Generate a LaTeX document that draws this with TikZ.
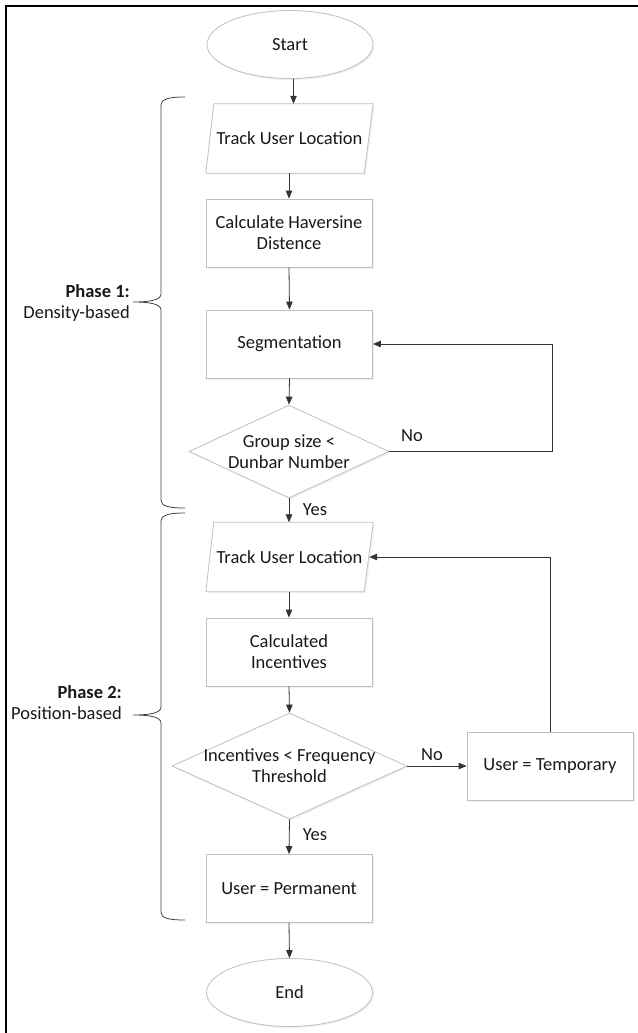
\documentclass[tikz,border=0pt]{standalone}
\usepackage{fontspec}
\setmainfont{Carlito}
\usetikzlibrary{shapes.geometric,arrows.meta,shadows}
\begin{document}
\begin{tikzpicture}[x=1pt,y=-1pt,
  font=\fontsize{18.5}{21}\selectfont,
  every node/.style={text=black!90},
  shp/.style={draw=black!25, line width=0.8pt, fill=white,
    drop shadow={opacity=0.12,shadow xshift=1.5pt,shadow yshift=-1.5pt}},
  term/.style={shp, ellipse, minimum width=166pt, minimum height=68pt, inner sep=0pt},
  box/.style={shp, rectangle, minimum width=166pt, minimum height=68pt, inner sep=0pt, align=center},
  parbox/.style={rectangle, minimum width=167pt, minimum height=69pt, inner sep=0pt},
  dia/.style={shp, diamond, inner sep=0pt},
  arr/.style={-{Triangle[length=8pt,width=6.5pt]}, line width=0.8pt, draw=black!80},
  brace/.style={line width=0.8pt, draw=black!75},
  lbl/.style={inner sep=0pt}
]
\useasboundingbox (0,0) rectangle (637,1033);
\draw[line width=2pt] (5.5,1034) -- (5.5,6.5) -- (638,6.5);

\node[term] (start) at (290,44.5) {Start};
% parallelogram 1
\node[parbox] (p1) at (289.5,138.5) {};
\draw[shp] (p1.south west) -- ([xshift=-9pt]p1.south east) -- (p1.north east) -- ([xshift=8pt]p1.north west) -- cycle;
\node (p1t) at (p1) {Track User Location};
\node[box] (calc) at (289,233) {Calculate Haversine\\Distence};
\node[box] (seg) at (289.5,344) {Segmentation};
\node[dia, minimum width=200pt, minimum height=93pt] (d1) at (289,451.5) {};
\node[align=center] (d1t) at (d1) {Group size <\\Dunbar Number};
% parallelogram 2
\node[parbox] (p2) at (289.5,557) {};
\draw[shp] (p2.south west) -- ([xshift=-9pt]p2.south east) -- (p2.north east) -- ([xshift=8pt]p2.north west) -- cycle;
\node (p2t) at (p2) {Track User Location};
\node[box] (inc) at (289,652) {Calculated\\Incentives};
\node[dia, minimum width=235pt, minimum height=106pt] (d2) at (289.5,766) {};
\node[align=center] (d2t) at (d2) {Incentives < Frequency\\Threshold};
\node[box] (temp) at (550,766) {User = Temporary};
\node[box] (perm) at (289,888.5) {User = Permanent};
\node[term] (end) at (289.5,992.5) {End};

\node[lbl] (yes1) at (315,510) {Yes};
\node[lbl] (no1) at (412,436) {No};
\node[lbl] (no2) at (432,755) {No};
\node[lbl] (yes2) at (315,835) {Yes};

\draw[arr] ([xshift=4pt]p1.north |- start.south) -- ([xshift=4pt]p1.north);
\draw[arr] (calc.north |- p1.south) -- (calc.north);
\draw[arr] (calc.south) -- (seg.north);
\draw[arr] (seg.south) -- (d1.north);
\draw[arr] (d1.south) -- (d1.south |- p2.north);
\coordinate (c1) at (552,344);
\draw[arr] (d1.east) -| (c1) -- (seg.east);
\draw[arr] (inc.north |- p2.south) -- (inc.north);
\draw[arr] (inc.south) -- (d2.north);
\draw[arr] (d2.east) -- (temp.west);
\coordinate (p2e) at ([xshift=-4pt]p2.east);
\draw[arr] (temp.north) |- (p2e);
\draw[arr] (d2.south) -- (perm.north);
\draw[arr] (perm.south) -- (end.north);

\node[align=right, anchor=east, inner sep=0pt] (ph1) at (130,303) {\textbf{Phase 1:}\\Density-based};
\node[align=right, anchor=east, inner sep=0pt] (ph2) at (122,703) {\textbf{Phase 2:}\\Position-based};

\draw[brace] (185,97) .. controls (168,97) and (161,99) .. (161,106) -- (161,294)
  .. controls (161,300) and (150,302) .. (133,302)
  .. controls (150,302) and (161,304) .. (161,310) -- (161,500)
  .. controls (161,506) and (168,508) .. (185,508);
\draw[brace] (185,513) .. controls (168,513) and (161,515) .. (161,522) -- (161,707)
  .. controls (161,713) and (150,715) .. (133,715)
  .. controls (150,715) and (161,717) .. (161,723) -- (161,912)
  .. controls (161,918) and (168,920) .. (185,920);
\end{tikzpicture}
\end{document}
